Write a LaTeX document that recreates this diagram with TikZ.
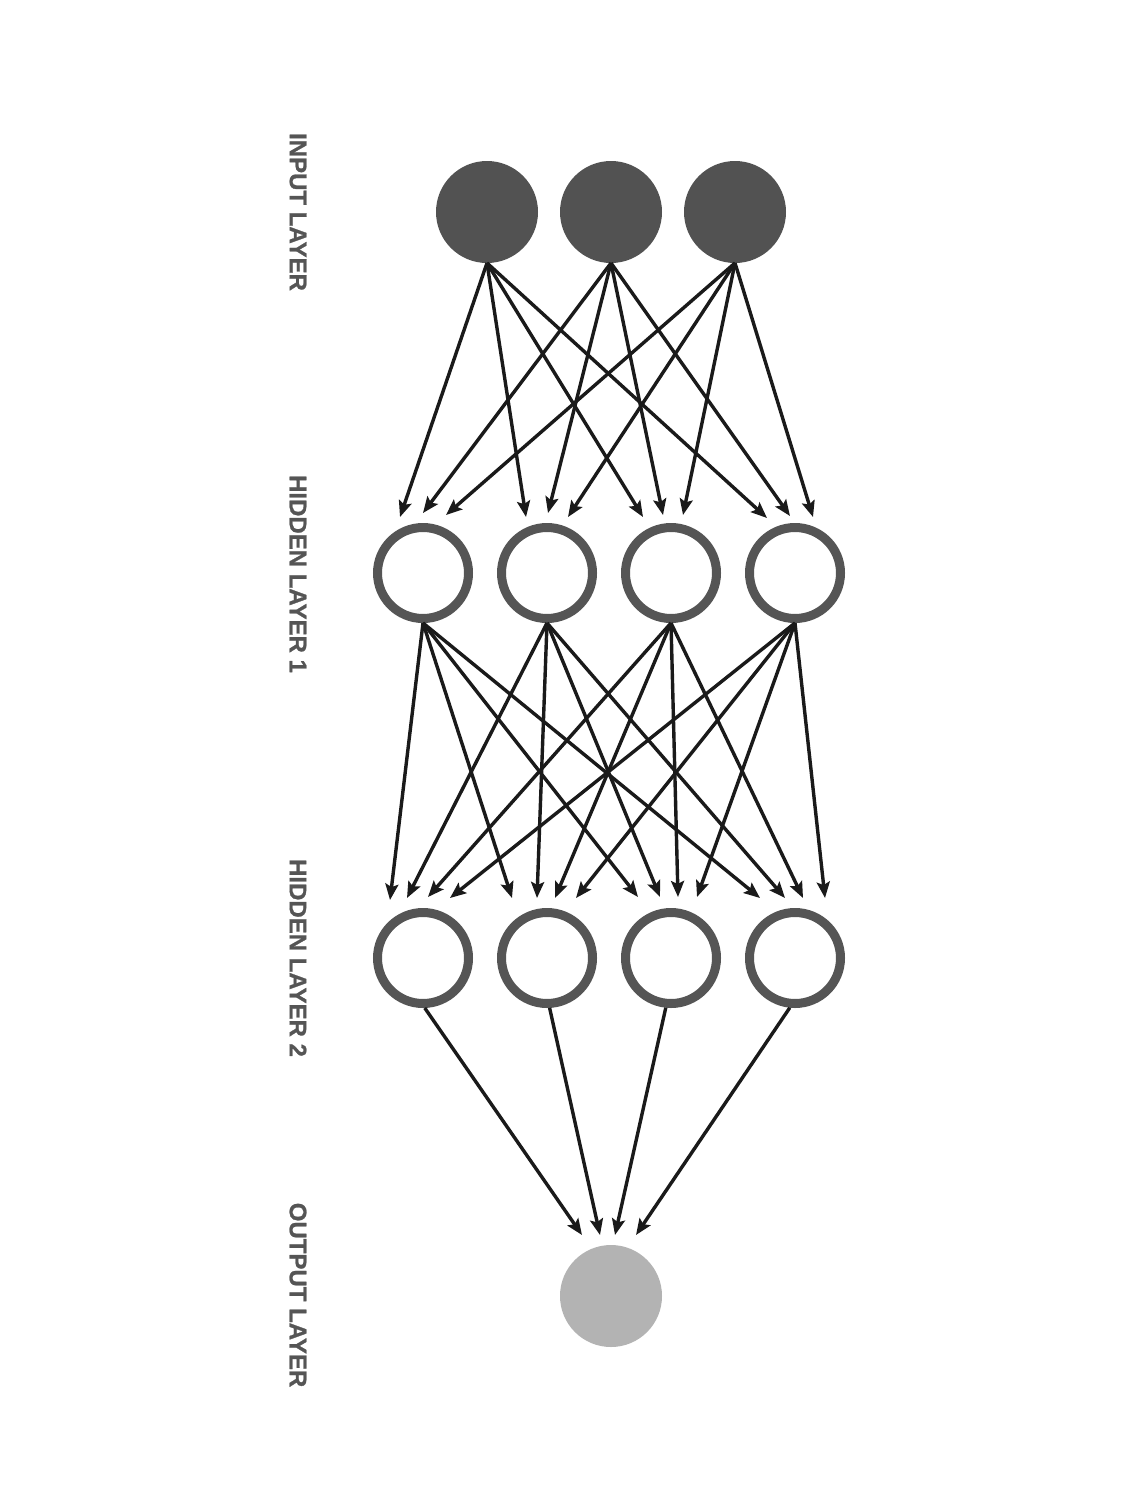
\documentclass[tikz,border=0pt]{standalone}
\usepackage{fontspec}
\setmainfont{Liberation Sans}
\newfontfamily\labfont{Liberation Sans Bold}[FakeBold=1]
\usetikzlibrary{arrows.meta}
\definecolor{inpc}{HTML}{525252}
\definecolor{ringc}{HTML}{555555}
\definecolor{outc}{HTML}{B3B3B3}
\definecolor{arrc}{HTML}{1A1A1A}
\definecolor{labc}{HTML}{555555}
\begin{document}
\begin{tikzpicture}[x=1pt,y=-1pt,
  inp/.style={circle,fill=inpc,draw=none,minimum size=102pt,inner sep=0pt,outer sep=0pt},
  hid/.style={circle,fill=white,draw=ringc,line width=9pt,minimum size=91pt,inner sep=0pt,outer sep=4.5pt},
  outp/.style={circle,fill=outc,draw=none,minimum size=102pt,inner sep=0pt,outer sep=0pt},
  conn/.style={draw=arrc,line width=3.4pt,-{Stealth[length=16pt,width=13pt,inset=3pt]}},
  lab/.style={rotate=-90,inner sep=0pt,text=labc,font=\labfont\fontsize{24}{28}\selectfont}]
\fill[white] (0,0) rectangle (1143,1491);
\useasboundingbox (0,0) rectangle (1143,1491);

% nodes
\foreach \n/\x in {1/487,2/611,3/735} \node[inp] (i\n) at (\x,212) {};
\foreach \n/\x in {1/423,2/547,3/671,4/795} {
  \node[hid] (a\n) at (\x,573) {};
  \node[hid] (b\n) at (\x,958) {};
}
\node[outp] (o) at (611,1296) {};

% labels
\node[lab] (l1) at (298,212) {INPUT LAYER};
\node[lab] (l2) at (298,574) {HIDDEN LAYER 1};
\node[lab] (l3) at (298,958) {HIDDEN LAYER 2};
\node[lab] (l4) at (298,1295) {OUTPUT LAYER};

% arrow tip points: input -> hidden 1
\foreach \j/\i/\x/\y in {1/1/400/517,1/2/423/513,1/3/446/515,
                         2/1/526/517,2/2/548/513,2/3/568/517,
                         3/1/643/517,3/2/663/515,3/3/683/515,
                         4/1/767/518,4/2/790/516,4/3/813/517}
  \coordinate (p\j\i) at (\x,\y);
% hidden 1 -> hidden 2
\foreach \j/\i/\x/\y in {1/1/390/900,1/2/407/898,1/3/428/897,1/4/450/898,
                         2/1/512/898,2/2/537/898,2/3/555/898,2/4/576/898,
                         3/1/638/897,3/2/660/897,3/3/678/897,3/4/697/897,
                         4/1/760/898,4/2/785/898,4/3/803/898,4/4/825/898}
  \coordinate (q\j\i) at (\x,\y);
% hidden 2 -> output
\foreach \i/\x in {1/582,2/600,3/615,4/636}
  \coordinate (r\i) at (\x,1235);

% connectors
\foreach \i in {1,2,3}
  \foreach \j in {1,2,3,4}
    \draw[conn] (i\i.south) -- (p\j\i);
\foreach \i in {1,2,3,4}
  \foreach \j in {1,2,3,4}
    \draw[conn] (a\i.south) -- (q\j\i);
\foreach \i/\ang in {1/-88,2/-87,3/-96,4/-96}
  \draw[conn] (b\i.\ang) -- (r\i);
\end{tikzpicture}
\end{document}
